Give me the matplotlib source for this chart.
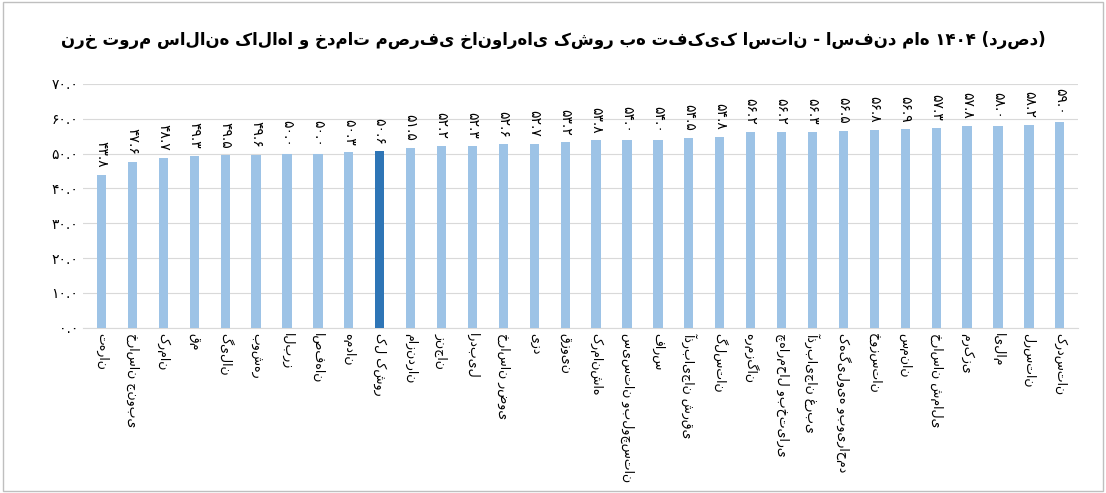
import matplotlib
matplotlib.use("Agg")
import matplotlib.pyplot as plt

categories = ["تهران","خراسان جنوبی","کرمان","قم","گیلان","بوشهر","البرز","اصفهان","همدان","کل کشور",
 "مازندران","زنجان","اردبیل","خراسان رضوی","یزد","قزوین","کرمانشاه","سیستان وبلوچستان","فارس",
 "آذربایجان شرقی","گلستان","هرمزگان","چهارمحال وبختیاری","آذربایجان غربی","کهگیلویه وبویراحمد",
 "خوزستان","سمنان","خراسان شمالی","مرکزی","ایلام","لرستان","کردستان"]
values = [43.8,47.6,48.7,49.3,49.5,49.6,50.0,50.0,50.3,50.6,51.5,52.2,52.3,52.6,52.7,53.2,53.8,54.0,54.0,
 54.5,54.8,56.2,56.2,56.3,56.5,56.8,56.9,57.3,57.8,58.0,58.2,59.0]
highlight = "کل کشور"
title = "نرخ تورم سالانه کالاها و خدمات مصرفی خانوارهای کشور به تفکیک استان - اسفند ماه ۱۴۰۴ (درصد)"

def fa(s):
    return s.translate(str.maketrans("0123456789", "۰۱۲۳۴۵۶۷۸۹"))

plt.rcParams['font.family'] = ['DejaVu Sans']
fig = plt.figure(figsize=(11.06, 4.93), dpi=100)
ax = fig.add_axes([0.075, 0.335, 0.9, 0.495])
x = range(len(categories))
colors = ["#2E75B6" if c == highlight else "#9DC3E6" for c in categories]
ax.bar(x, values, width=0.3, color=colors, zorder=3)
for i, v in zip(x, values):
    ax.text(i, v + 2, fa(f"{v:.1f}"), rotation=-90, ha="center", va="bottom", fontsize=10)
ax.set_ylim(0, 70)
ax.set_xlim(-0.6, len(categories) - 0.4)
ax.set_yticks(range(0, 71, 10))
ax.set_yticklabels([fa(f"{t:.1f}") for t in range(0, 71, 10)], fontsize=10)
ax.set_xticks(list(x))
ax.set_xticklabels(categories, rotation=-90, fontsize=9, va="top")
ax.grid(axis="y", color="#d9d9d9", zorder=0)
for s in ["top", "right", "left"]:
    ax.spines[s].set_visible(False)
ax.spines["bottom"].set_color("#d9d9d9")
ax.tick_params(length=0)
fig.text(0.5, 0.91, title, ha="center", fontsize=12, fontweight="bold")
fig.patches.append(plt.Rectangle((0.003, 0.005), 0.994, 0.99, transform=fig.transFigure,
                                 fill=False, edgecolor="#bfbfbf", lw=1))
fig.savefig("out.png", dpi=100)
